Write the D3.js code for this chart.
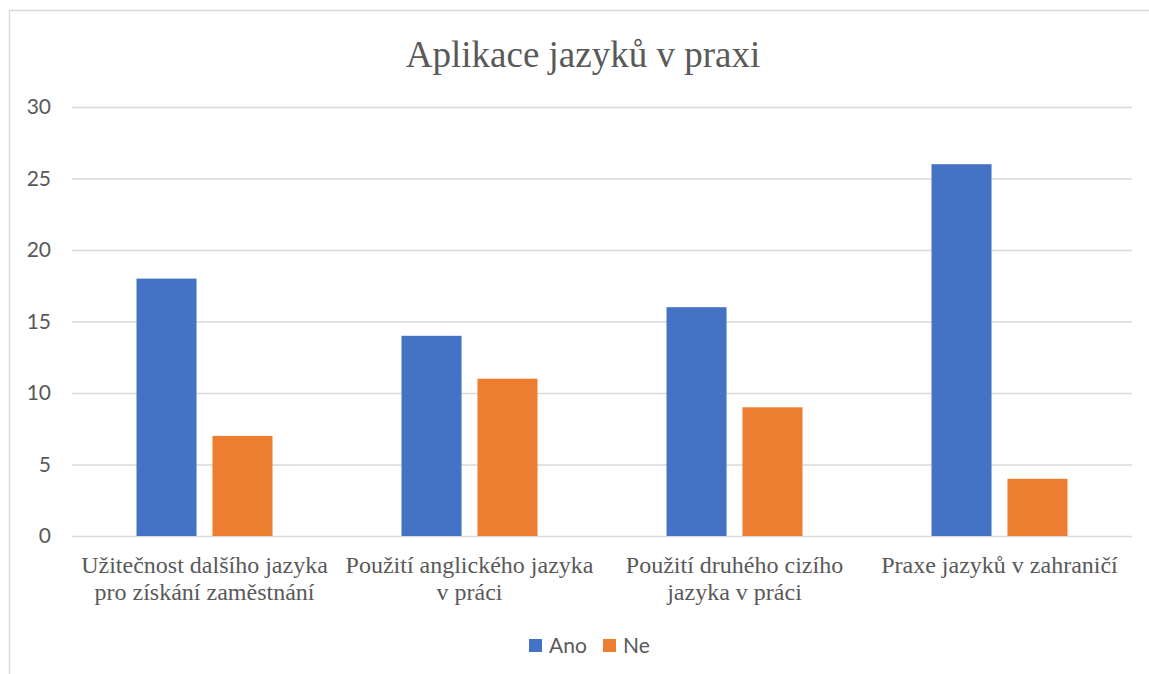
<!DOCTYPE html>
<html>
<head>
<meta charset="utf-8">
<script src="https://cdn.jsdelivr.net/npm/d3@7"></script>
<style>
html,body{margin:0;padding:0;background:#fff;}
svg{display:block;}
</style>
</head>
<body>
<script>
const title = "Aplikace jazyků v praxi";
const categories = [
  ["Užitečnost dalšího jazyka", "pro získání zaměstnání"],
  ["Použití anglického jazyka", "v práci"],
  ["Použití druhého cizího", "jazyka v práci"],
  ["Praxe jazyků v zahraničí"]
];
const seriesNames = ["Ano", "Ne"];
const anoValues = [18, 14, 16, 26];
const neValues = [7, 11, 9, 4];
const yTicks = [0, 5, 10, 15, 20, 25, 30];
const colors = ["#4472C4", "#ED7D31"];

(function(){
const W = 1149, H = 674;
const svg = d3.select("body").append("svg").attr("width", W).attr("height", H);

// chart border
svg.append("rect").attr("x", 9.5).attr("y", 10.5).attr("width", W + 20).attr("height", H + 20)
  .attr("fill", "none").attr("stroke", "#d9d9d9").attr("stroke-width", 1.5);

const pLeft = 72, pRight = 1132, pTop = 107, pBottom = 536;

const y = d3.scaleLinear().domain([0, 30]).range([pBottom, pTop]);
const x0 = d3.scaleBand().domain(d3.range(categories.length)).range([pLeft, pRight]).paddingInner(0).paddingOuter(0);
const x1 = d3.scaleBand().domain(seriesNames).range([0, 136]).paddingInner(0.21);

// gridlines
const yAxis = d3.axisLeft(y).tickValues(yTicks).tickSize(-(pRight - pLeft)).tickFormat(d3.format("d"));
const gy = svg.append("g").attr("transform", `translate(${pLeft},0)`).call(yAxis);
gy.select(".domain").remove();
gy.selectAll(".tick line").attr("stroke", "#d9d9d9").attr("stroke-width", 1.5);
gy.selectAll(".tick text").attr("x", -21).attr("fill", "#595959")
  .style("font-family", "Lato, 'Open Sans', sans-serif").style("font-size", "21px");

// bars
const data = categories.map((c, i) => ({ i, vals: [anoValues[i], neValues[i]] }));
const groups = svg.append("g").selectAll("g").data(data).join("g")
  .attr("transform", d => `translate(${x0(d.i) + x0.bandwidth() / 2 - 68},0)`);
groups.selectAll("rect").data(d => d.vals.map((v, k) => ({ v, k })))
  .join("rect")
  .attr("x", d => x1(seriesNames[d.k]))
  .attr("width", x1.bandwidth())
  .attr("y", d => y(d.v))
  .attr("height", d => y(0) - y(d.v))
  .attr("fill", d => colors[d.k]);

// category labels
const xAxis = d3.axisBottom(x0).tickSize(0).tickFormat(() => "");
const gx = svg.append("g").attr("transform", `translate(0,${pBottom})`).call(xAxis);
gx.select(".domain").remove();
gx.selectAll(".tick").each(function(d) {
  const t = d3.select(this).append("text")
    .attr("text-anchor", "middle").attr("fill", "#595959")
    .style("font-family", "'Liberation Serif', 'Times New Roman', serif").style("font-size", "24px");
  categories[d].forEach((line, j) => {
    t.append("tspan").attr("x", 0).attr("y", 37 + j * 27).text(line);
  });
});

// title
svg.append("text").attr("x", 583).attr("y", 67).attr("text-anchor", "middle")
  .attr("fill", "#595959")
  .style("font-family", "'Liberation Serif', 'Times New Roman', serif").style("font-size", "37px")
  .text(title);

// legend
const legend = svg.append("g");
const legendX = [529, 603];
seriesNames.forEach((s, k) => {
  legend.append("rect").attr("x", legendX[k]).attr("y", 639).attr("width", 13).attr("height", 13).attr("fill", colors[k]);
  legend.append("text").attr("x", legendX[k] + 20).attr("y", 653).attr("fill", "#595959")
    .style("font-family", "Lato, 'Open Sans', sans-serif").style("font-size", "21px").text(s);
});
})();
</script>
</body>
</html>
